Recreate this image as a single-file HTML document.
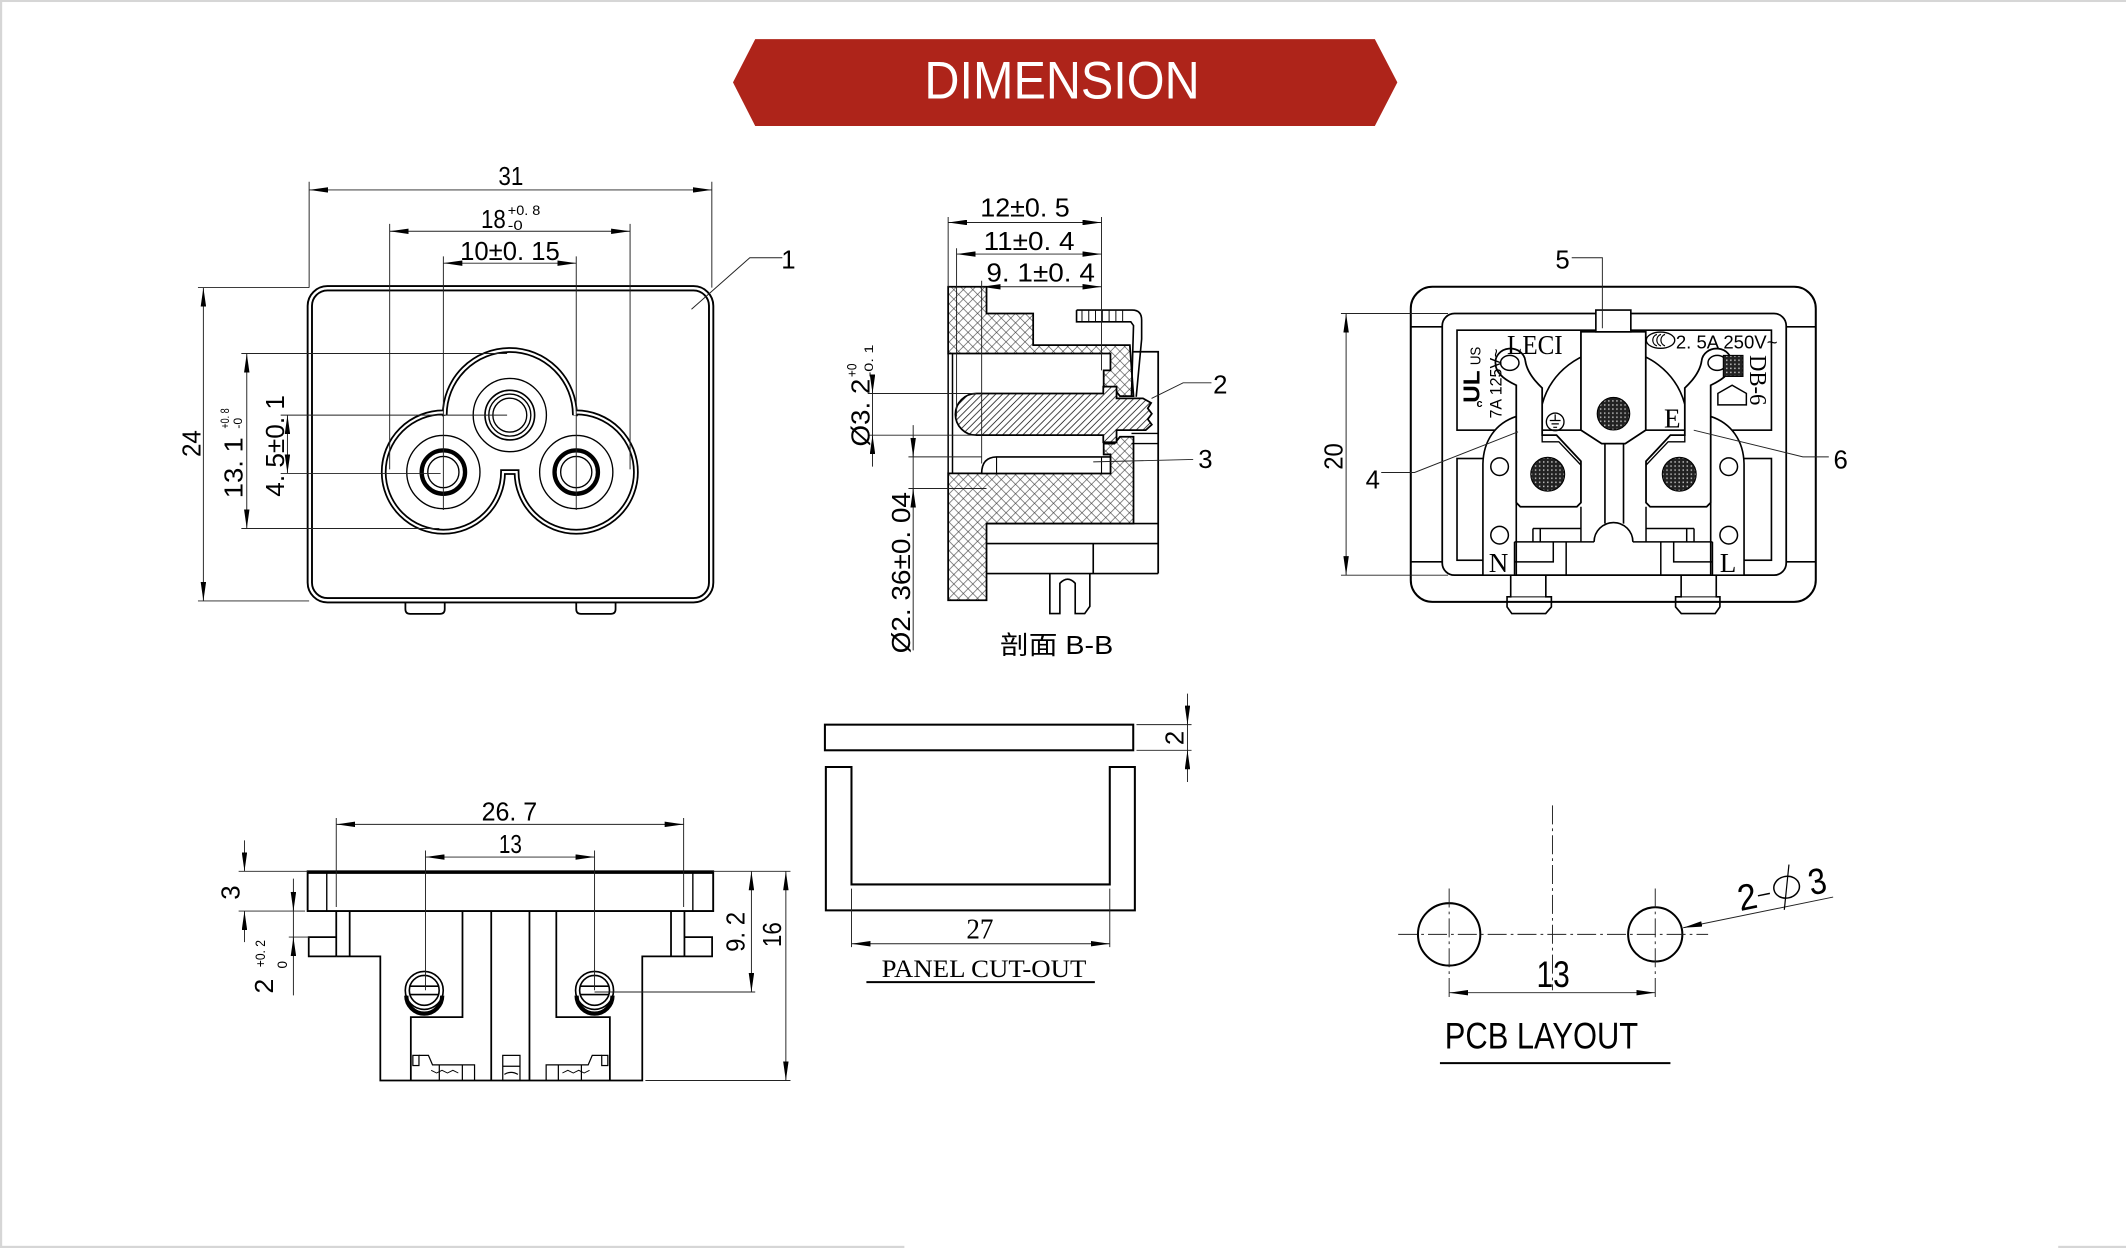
<!DOCTYPE html>
<html><head><meta charset="utf-8"><style>
html,body{margin:0;padding:0;background:#fff;overflow:hidden;}
svg{display:block;}
text{font-family:"Liberation Sans","Noto Sans CJK SC",sans-serif;fill:#000;stroke:none;}
.s{font-family:"Liberation Serif","Noto Serif CJK SC",serif;}
</style></head><body>
<svg xmlns="http://www.w3.org/2000/svg" width="2126" height="1248" viewBox="0 0 1568 920" preserveAspectRatio="none">
<defs>
<marker id="ar" viewBox="0 0 14 4" refX="14" refY="2" markerWidth="14" markerHeight="4" markerUnits="userSpaceOnUse" orient="auto-start-reverse"><path d="M0,0 L14,2 L0,4 z" fill="#000" stroke="none"/></marker>
<pattern id="xh" width="7" height="7" patternUnits="userSpaceOnUse"><path d="M-1,1 L1,-1 M0,7 L7,0 M6,8 L8,6 M-1,6 L1,8 M0,0 L7,7 M6,-1 L8,1" stroke="#333" stroke-width="0.45" fill="none"/></pattern>
<pattern id="dh" width="5" height="5" patternUnits="userSpaceOnUse"><path d="M-1,1 L1,-1 M0,5 L5,0 M4,6 L6,4" stroke="#000" stroke-width="0.55" fill="none"/></pattern>
<pattern id="mesh" width="3" height="3" patternUnits="userSpaceOnUse"><rect width="3" height="3" fill="#222"/><rect x="1" y="1" width="1.1" height="1.1" fill="#bbb"/></pattern>
</defs>

<!-- page border -->
<rect x="0" y="0" width="1568" height="1.5" fill="#d6d6d6"/>
<rect x="0" y="0" width="1.6" height="920" fill="#d6d6d6"/>
<rect x="0" y="918.4" width="667" height="1.6" fill="#d6d6d6"/>
<rect x="1518" y="918.4" width="50" height="1.6" fill="#d6d6d6"/>

<!-- banner -->
<polygon points="540.6,60.7 557,28.8 1014,28.8 1030.6,60.7 1014,92.9 557,92.9" fill="#AE241A"/>
<text x="783.3" y="72.5" font-size="39" text-anchor="middle" textLength="203" lengthAdjust="spacingAndGlyphs" style="fill:#fff">DIMENSION</text>

<!-- ================= FRONT VIEW ================= -->
<g fill="none" stroke="#000">
<rect x="228.5" y="212.5" width="296" height="230" rx="13" stroke-width="4.6"/>
<rect x="228.5" y="212.5" width="296" height="230" rx="13" stroke="#fff" stroke-width="1.8"/>
<path d="M299,444.5 V449 Q299,452.5 302.5,452.5 H324.5 Q328,452.5 328,449 V444.5" stroke-width="1.3"/>
<path d="M425,444.5 V449 Q425,452.5 428.5,452.5 H450.5 Q454,452.5 454,449 V444.5" stroke-width="1.3"/>
<path d="M328,306 A48,48 0 0 1 424,306 L425,304 A44,44 0 1 1 381,348 L371,348 A44,44 0 1 1 327,304 Z" stroke-width="4.2"/>
<path d="M328,306 A48,48 0 0 1 424,306 L425,304 A44,44 0 1 1 381,348 L371,348 A44,44 0 1 1 327,304 Z" stroke="#fff" stroke-width="1.6"/>
<circle cx="376" cy="306" r="27" stroke-width="1"/>
<circle cx="376" cy="306" r="18.3" stroke-width="1.2"/>
<circle cx="376" cy="306" r="15.5" stroke-width="1"/>
<circle cx="376" cy="306" r="12.5" stroke-width="1"/>
<circle cx="327" cy="348" r="27" stroke-width="1"/>
<circle cx="327" cy="348" r="16" stroke-width="3.2"/>
<circle cx="327" cy="348" r="11.5" stroke-width="1"/>
<circle cx="425" cy="348" r="27" stroke-width="1"/>
<circle cx="425" cy="348" r="16" stroke-width="3.2"/>
<circle cx="425" cy="348" r="11.5" stroke-width="1"/>
<g stroke-width="0.7" stroke="#222">
<path d="M228,134 V212 M525,134 V212"/>
<line x1="228" y1="140" x2="525" y2="140" marker-start="url(#ar)" marker-end="url(#ar)"/>
<path d="M287.4,165 V346 M464.7,165 V346"/>
<line x1="287.4" y1="170.5" x2="464.7" y2="170.5" marker-start="url(#ar)" marker-end="url(#ar)"/>
<path d="M327,189 V376 M425,189 V376"/>
<line x1="327" y1="194" x2="425" y2="194" marker-start="url(#ar)" marker-end="url(#ar)"/>
<path d="M146,212 H228 M146,443 H228"/>
<line x1="150" y1="212" x2="150" y2="443" marker-start="url(#ar)" marker-end="url(#ar)"/>
<path d="M178,260.6 H374 M178,389.6 H324"/>
<line x1="182" y1="260.6" x2="182" y2="389.6" marker-start="url(#ar)" marker-end="url(#ar)"/>
<path d="M207,306 H374 M207,349 H325"/>
<line x1="212" y1="306" x2="212" y2="349" marker-start="url(#ar)" marker-end="url(#ar)"/>
<path d="M510,228 L553,190 H577"/>
</g>
</g>
<text x="376.8" y="136.5" font-size="19" text-anchor="middle" textLength="18.4" lengthAdjust="spacingAndGlyphs">31</text>
<text x="363.9" y="168" font-size="19" text-anchor="middle" textLength="18.3" lengthAdjust="spacingAndGlyphs">18</text>
<text x="374.5" y="158.6" font-size="10" textLength="24" lengthAdjust="spacingAndGlyphs">+0. 8</text>
<text x="374.5" y="169.5" font-size="10" textLength="11" lengthAdjust="spacingAndGlyphs">-0</text>
<text x="376.1" y="191.5" font-size="19" text-anchor="middle" textLength="73.4" lengthAdjust="spacingAndGlyphs">10±0. 15</text>
<text transform="translate(140.7,327) rotate(-90)" x="0" y="7" font-size="19" text-anchor="middle" textLength="19.8" lengthAdjust="spacingAndGlyphs">24</text>
<g transform="translate(172,344.8) rotate(-90)">
<text x="0" y="7" font-size="19" text-anchor="middle" textLength="45" lengthAdjust="spacingAndGlyphs">13. 1</text>
<text x="28.8" y="-3" font-size="9" textLength="15" lengthAdjust="spacingAndGlyphs">+0. 8</text>
<text x="28.8" y="6.5" font-size="9" textLength="8" lengthAdjust="spacingAndGlyphs">-0</text>
</g>
<text transform="translate(202.6,328.7) rotate(-90)" x="0" y="7" font-size="19" text-anchor="middle" textLength="75" lengthAdjust="spacingAndGlyphs">4. 5±0. 1</text>
<text x="581.5" y="198" font-size="19" text-anchor="middle">1</text>

<!-- ================= SECTION B-B ================= -->
<g fill="none" stroke="#000">
<path d="M699.3,211.4 H727.6 V231.1 H762 V254.4 H833.3 L836,292 H826 L822,287 H814 V273 H819 V260.6 H699.3 Z" fill="url(#xh)" stroke-width="1.3"/>
<path d="M699.3,349 H819 V335 H814 V327 H822 L826,322 H836 V386 H727.6 V442.5 H699.3 Z" fill="url(#xh)" stroke-width="1.3"/>
<path d="M699.3,260.6 V349 M702.5,260.6 V349" stroke-width="1.1"/>
<path d="M720,290.1 H813.7 V285 H823.5 V293.7 H843 L849,297 L846.5,301 L849.5,305 L846.5,309 L849.5,313 L845,317.1 H823.5 V326 H813.7 V320.8 H720 A15.35,15.35 0 0 1 720,290.1 Z" fill="#fff" stroke="none"/>
<path d="M720,290.1 H813.7 V285 H823.5 V293.7 H843 L849,297 L846.5,301 L849.5,305 L846.5,309 L849.5,313 L845,317.1 H823.5 V326 H813.7 V320.8 H720 A15.35,15.35 0 0 1 720,290.1 Z" fill="url(#dh)" stroke-width="1.3"/>
<path d="M735,336.8 H819 V349 H724 Q724,337 735,336.8 Z" fill="#fff" stroke-width="1.2"/>
<path d="M735,336.8 V349 M812.4,336.8 V349" stroke-width="0.8"/>
<path d="M836,259.3 H854.2 V422.8" stroke-width="1.3"/>
<path d="M834.5,319.5 H854.2 M834.5,327 H854.2" stroke-width="1"/>
<path d="M727.6,386 H854.2 M727.6,400.7 H854.2 M727.6,422.8 H854.2 M806.3,400.7 V422.8" stroke-width="1.2"/>
<path d="M774.3,422.8 V452.3 H781.7 V430 Q787.5,424 793,430 V452.3 H800 L803.8,447 V422.8" stroke-width="1.2"/>
<path d="M794,228.6 H835 Q842,228.6 842,236 V250 L838,292.5 M794,228.6 V237.2 H834 L836,240 L834.5,292" stroke-width="1.2"/>
<path d="M798,229 V237 M803,229 V237 M808,229 V237 M813,229 V237 M818,229 V237 M823,229 V237 M828,229 V237" stroke-width="0.7"/>
<g stroke-width="0.7" stroke="#222">
<path d="M699.3,160 V211.4 M812.4,160 V273"/>
<line x1="699.3" y1="164" x2="812.4" y2="164" marker-start="url(#ar)" marker-end="url(#ar)"/>
<path d="M705.5,183 V307"/>
<line x1="705.5" y1="187.3" x2="812.4" y2="187.3" marker-start="url(#ar)" marker-end="url(#ar)"/>
<path d="M724,207 V341.7"/>
<line x1="724" y1="211.4" x2="812.4" y2="211.4" marker-start="url(#ar)" marker-end="url(#ar)"/>
<path d="M643.5,276.5 V344 M640,290.1 H720 M640,320.8 H720"/>
<line x1="643.5" y1="276.5" x2="643.5" y2="290.1" marker-end="url(#ar)"/>
<line x1="643.5" y1="334.4" x2="643.5" y2="320.8" marker-end="url(#ar)"/>
<path d="M673.5,313.4 V479.4 M670,336.8 H724 M670,360.1 H727.6"/>
<line x1="673.5" y1="322.8" x2="673.5" y2="336.8" marker-end="url(#ar)"/>
<line x1="673.5" y1="374" x2="673.5" y2="360.1" marker-end="url(#ar)"/>
<path d="M849.3,293.7 L872.6,282.2 H893.5"/>
<path d="M806.3,340.5 L880,338.7"/>
</g>
</g>
<text x="756" y="159.5" font-size="19" text-anchor="middle" textLength="66" lengthAdjust="spacingAndGlyphs">12±0. 5</text>
<text x="759" y="184.3" font-size="19" text-anchor="middle" textLength="67" lengthAdjust="spacingAndGlyphs">11±0. 4</text>
<text x="767.5" y="207.7" font-size="19" text-anchor="middle" textLength="80" lengthAdjust="spacingAndGlyphs">9. 1±0. 4</text>
<g transform="translate(634.2,304.2) rotate(-90)">
<text x="0" y="7" font-size="19" text-anchor="middle" textLength="50" lengthAdjust="spacingAndGlyphs">Ø3. 2</text>
<text x="26.2" y="-2.5" font-size="10" textLength="10" lengthAdjust="spacingAndGlyphs">+0</text>
<text x="26.2" y="9.5" font-size="9" textLength="24" lengthAdjust="spacingAndGlyphs">-0. 1</text>
</g>
<text transform="translate(664.3,422.2) rotate(-90)" x="0" y="7" font-size="19" text-anchor="middle" textLength="119" lengthAdjust="spacingAndGlyphs">Ø2. 36±0. 04</text>
<text x="900" y="290" font-size="19" text-anchor="middle">2</text>
<text x="889" y="345" font-size="19" text-anchor="middle">3</text>
<text x="779.3" y="482" font-size="19" text-anchor="middle" textLength="83.5" lengthAdjust="spacingAndGlyphs">剖面 B-B</text>

<!-- ================= BACK VIEW ================= -->
<g fill="none" stroke="#000">
<rect x="1040.5" y="211.4" width="298.7" height="232.3" rx="16" stroke-width="1.5"/>
<rect x="1063.7" y="231.1" width="253.7" height="192.9" rx="9" stroke-width="1.3"/>
<path d="M1040.5,240.9 H1063.7 M1317.4,240.9 H1339.2 M1040.5,414.2 H1063.7 M1317.4,414.2 H1339.2" stroke-width="1.2"/>
<rect x="1074.6" y="243.4" width="231.9" height="73.7" stroke-width="1.2"/>
<rect x="1074.6" y="338" width="20.4" height="75" stroke-width="1.2"/>
<rect x="1286" y="338" width="20.5" height="75" stroke-width="1.2"/>
<path d="M1137.4,298 A54.5,54.5 0 0 1 1242.6,298" stroke-width="1.2"/>
<path d="M1093.7,424 V342 C1094,325 1103,312 1118.3,307 V424 Z" fill="#fff" stroke-width="1.2"/>
<path d="M1286.3,424 V342 C1286,325 1277,312 1261.7,307 V424 Z" fill="#fff" stroke-width="1.2"/>
<circle cx="1106" cy="344" r="6.5" stroke-width="1.1"/>
<circle cx="1106" cy="394.5" r="6.5" stroke-width="1.1"/>
<circle cx="1275" cy="344" r="6.5" stroke-width="1.1"/>
<circle cx="1275" cy="394.5" r="6.5" stroke-width="1.1"/>
<g>
<path d="M1121.3,373.6 L1118.3,370.5 V284 C1112,281 1103,276 1103,268 A11,10 0 0 1 1125,266 C1126,273 1131,280 1137.4,286 V320.8 H1148 L1166,340 V370.5 L1163,373.6 Z" fill="#fff" stroke-width="1.3"/>
<ellipse cx="1113.5" cy="267.5" rx="6.8" ry="5.5" stroke-width="1.1"/>
<path d="M1137.4,320.8 V325.7 H1149.7 L1166,342.9" stroke-width="1"/>
<circle cx="1141.5" cy="349.6" r="12.5" fill="url(#mesh)" stroke-width="0.8"/>
<path d="M1117,399.5 H1175.7 M1166,373.6 V399.5 M1130.6,389.6 H1166 M1130.6,389.6 V399.5 M1136,389.6 V399.5" stroke-width="1.1"/>
<path d="M1117,399.5 V424 M1155.1,399.5 V424 M1117,414.2 H1145.6 V399.5" stroke-width="1.1"/>
<path d="M1114.2,424 V440 H1111.5 V447.4 L1115,452.3 H1140 L1144.2,447.4 V440 H1140.1 V424" stroke-width="1.2"/>
<path d="M1111.5,440 H1144.2" stroke-width="0.8"/>
</g>
<g transform="translate(2380,0) scale(-1,1)">
<path d="M1121.3,373.6 L1118.3,370.5 V284 C1112,281 1103,276 1103,268 A11,10 0 0 1 1125,266 C1126,273 1131,280 1137.4,286 V320.8 H1148 L1166,340 V370.5 L1163,373.6 Z" fill="#fff" stroke-width="1.3"/>
<ellipse cx="1113.5" cy="267.5" rx="6.8" ry="5.5" stroke-width="1.1"/>
<path d="M1137.4,320.8 V325.7 H1149.7 L1166,342.9" stroke-width="1"/>
<circle cx="1141.5" cy="349.6" r="12.5" fill="url(#mesh)" stroke-width="0.8"/>
<path d="M1117,399.5 H1175.7 M1166,373.6 V399.5 M1130.6,389.6 H1166 M1130.6,389.6 V399.5 M1136,389.6 V399.5" stroke-width="1.1"/>
<path d="M1117,399.5 V424 M1155.1,399.5 V424 M1117,414.2 H1145.6 V399.5" stroke-width="1.1"/>
<path d="M1114.2,424 V440 H1111.5 V447.4 L1115,452.3 H1140 L1144.2,447.4 V440 H1140.1 V424" stroke-width="1.2"/>
<path d="M1111.5,440 H1144.2" stroke-width="0.8"/>
</g>
<path d="M1166,244.6 H1213.8 V317.1 L1198.7,327 H1181.3 L1166,317.1 Z" fill="#fff" stroke-width="1.3"/>
<path d="M1177,228.6 H1202.8 V244.6 H1177 Z" fill="#fff" stroke-width="1.2"/>
<path d="M1183.7,327 V386 M1197.4,327 V386" stroke-width="1.2"/>
<path d="M1175.7,399.5 A14.3,14.3 0 0 1 1204.3,399.5" stroke-width="1.2"/>
<circle cx="1190" cy="305" r="12" fill="url(#mesh)" stroke-width="0.8"/>
<circle cx="1147" cy="311" r="6.5" stroke-width="1"/>
<path d="M1147,305.5 V310 M1143,310 H1151 M1144.3,312.5 H1149.7 M1145.6,315 H1148.4" stroke-width="0.9"/>
<ellipse cx="1224.7" cy="250.8" rx="10.5" ry="6" stroke-width="1"/>
<path d="M1222,246.5 A4.5,4.5 0 0 0 1222,255 M1225,246.5 A4.5,4.5 0 0 0 1225,255 M1228,246.5 A4.5,4.5 0 0 0 1228,255" stroke-width="0.9"/>
<rect x="1271" y="262" width="14.5" height="15.5" fill="url(#mesh)" stroke-width="0.8"/>
<path d="M1267,298.5 V290 L1277.5,284 L1288,290 V298.5 Z" stroke-width="1.1"/>
<g stroke-width="0.7" stroke="#222">
<path d="M989,231.1 H1068 M989,424 H1068"/>
<line x1="992.8" y1="231.1" x2="992.8" y2="424" marker-start="url(#ar)" marker-end="url(#ar)"/>
<path d="M1159.2,190 H1181.8 V242"/>
<path d="M1119.6,318.3 L1043.3,348.3 H1018.7"/>
<path d="M1249.2,317.1 L1329.7,336.8 H1348.8"/>
</g>
</g>
<text class="s" x="1111.5" y="261" font-size="20" textLength="41" lengthAdjust="spacingAndGlyphs">LECI</text>
<text x="1236" y="256.9" font-size="13.5" textLength="75" lengthAdjust="spacingAndGlyphs">2. 5A 250V~</text>
<text class="s" transform="translate(1297.3,280.3) rotate(90)" x="0" y="6.5" font-size="18" text-anchor="middle" textLength="37" lengthAdjust="spacingAndGlyphs">DB-6</text>
<text transform="translate(1088,262.4) rotate(-90)" x="0" y="4" font-size="11" text-anchor="middle" textLength="13.6" lengthAdjust="spacingAndGlyphs">US</text>
<text transform="translate(1103,282.7) rotate(-90)" x="0" y="4.5" font-size="12" text-anchor="middle" textLength="51.6" lengthAdjust="spacingAndGlyphs">7A 125V~</text>
<text transform="translate(1085,285) rotate(-90)" x="0" y="6" font-size="17" font-weight="bold" text-anchor="middle" textLength="24" lengthAdjust="spacingAndGlyphs">UL</text>
<text x="1089" y="300" font-size="8" font-weight="bold">c</text>
<text class="s" x="1233.4" y="315" font-size="20" text-anchor="middle">E</text>
<text class="s" x="1105.2" y="421.6" font-size="20" text-anchor="middle">N</text>
<text class="s" x="1274.5" y="421.6" font-size="20" text-anchor="middle">L</text>
<text x="1152.4" y="197.9" font-size="19" text-anchor="middle">5</text>
<text x="1012.5" y="360" font-size="19" text-anchor="middle">4</text>
<text x="1357.6" y="345.4" font-size="19" text-anchor="middle">6</text>
<text transform="translate(983,336.5) rotate(-90)" x="0" y="7" font-size="19" text-anchor="middle" textLength="19.6" lengthAdjust="spacingAndGlyphs">20</text>

<!-- ================= BOTTOM VIEW ================= -->
<g fill="none" stroke="#000">
<rect x="226.9" y="642.3" width="299.1" height="29.3" stroke-width="1.4"/>
<path d="M227,643 H526" stroke-width="2.4"/>
<path d="M241,642.3 V671.6 M511,642.3 V671.6" stroke-width="1"/>
<path d="M248,671.6 V705 M257.9,671.6 V705 M494.9,671.6 V705 M504.8,671.6 V705" stroke-width="1.3"/>
<path d="M248,690.8 H227.7 V705 H248 M504.8,690.8 H525.2 V705 H504.8" stroke-width="1.3"/>
<path d="M248,705 H280.5 V796.5 H473.7 V705 H504.8 M303,796.5 V749.8 H341.1 V671.6 M362.3,671.6 V796.5 M390.5,671.6 V796.5 M410.3,671.6 V749.8 H449.8 V796.5" stroke-width="1.3"/>
<g stroke-width="0.9">
<rect x="304.5" y="778" width="4.5" height="7.5"/>
<path d="M309,778 H316 L319,785 L341,785 V796.5 M324,785 V796.5 M341,785 H350 V796.5"/>
<path d="M318,789 L322,791 L326,789 L330,791 L334,789 L338,791" stroke-width="0.7"/>
<rect x="443.8" y="778" width="4.5" height="7.5"/>
<path d="M443.8,778 H436.8 L433.8,785 L411.8,785 V796.5 M428.8,785 V796.5 M411.8,785 H402.8 V796.5"/>
<path d="M434.8,789 L430.8,791 L426.8,789 L422.8,791 L418.8,789 L414.8,791" stroke-width="0.7"/>
<rect x="370.8" y="778" width="12.7" height="18.5"/>
<path d="M370.8,786 H383.5 M372,792 Q377,789 382,792"/>
</g>
<g stroke-width="1.2">
<circle cx="312.9" cy="730.1" r="14"/>
<circle cx="312.9" cy="730.1" r="11"/>
<path d="M301.9,727 H323.9 M301.9,733.2 H323.9"/>
<path d="M298.9,734 A14,14 0 0 0 326.9,734 M300.4,734 A12.5,12.5 0 0 0 325.4,734" stroke-width="1.6"/>
<circle cx="438.5" cy="730.1" r="14"/>
<circle cx="438.5" cy="730.1" r="11"/>
<path d="M427.5,727 H449.5 M427.5,733.2 H449.5"/>
<path d="M424.5,734 A14,14 0 0 0 452.5,734 M426,734 A12.5,12.5 0 0 0 451,734" stroke-width="1.6"/>
</g>
<g stroke-width="0.7" stroke="#222">
<path d="M248,603 V668.6 M504.2,603 V668.6"/>
<line x1="248" y1="607.7" x2="504.2" y2="607.7" marker-start="url(#ar)" marker-end="url(#ar)"/>
<path d="M313.8,627 V730 M438.5,627 V730"/>
<line x1="313.8" y1="631.8" x2="438.5" y2="631.8" marker-start="url(#ar)" marker-end="url(#ar)"/>
<path d="M176,642.3 H227 M176,671.6 H225"/>
<line x1="180.3" y1="619.5" x2="180.3" y2="642.3" marker-end="url(#ar)"/>
<line x1="180.3" y1="694.5" x2="180.3" y2="671.6" marker-end="url(#ar)"/>
<path d="M216.4,647.7 V733.8 M213,690.8 H228"/>
<line x1="216.4" y1="657" x2="216.4" y2="671.6" marker-end="url(#ar)"/>
<line x1="216.4" y1="705" x2="216.4" y2="690.8" marker-end="url(#ar)"/>
<path d="M438.5,731.3 H557 M526,642.3 H583 M476,796.5 H583"/>
<line x1="554.2" y1="642.3" x2="554.2" y2="731.3" marker-start="url(#ar)" marker-end="url(#ar)"/>
<line x1="579.6" y1="642.3" x2="579.6" y2="796.5" marker-start="url(#ar)" marker-end="url(#ar)"/>
</g>
</g>
<text x="375.7" y="604.7" font-size="19" text-anchor="middle" textLength="41" lengthAdjust="spacingAndGlyphs">26. 7</text>
<text x="376.4" y="628.8" font-size="19" text-anchor="middle" textLength="17" lengthAdjust="spacingAndGlyphs">13</text>
<text transform="translate(169.7,658) rotate(-90)" x="0" y="7" font-size="19" text-anchor="middle">3</text>
<g transform="translate(196.5,727) rotate(-90)">
<text x="0" y="5" font-size="19" text-anchor="middle" textLength="11" lengthAdjust="spacingAndGlyphs">2</text>
<text x="14" y="-1" font-size="10" textLength="20" lengthAdjust="spacingAndGlyphs">+0. 2</text>
<text x="13" y="15" font-size="10">0</text>
</g>
<text transform="translate(542.2,687) rotate(-90)" x="0" y="7" font-size="19" text-anchor="middle" textLength="29.5" lengthAdjust="spacingAndGlyphs">9. 2</text>
<text transform="translate(569,689) rotate(-90)" x="0" y="7" font-size="19" text-anchor="middle" textLength="18.4" lengthAdjust="spacingAndGlyphs">16</text>

<!-- ================= PANEL CUT-OUT ================= -->
<g fill="none" stroke="#000">
<rect x="608.4" y="534.2" width="227.4" height="18.9" stroke-width="1.5"/>
<path d="M609.1,565.4 H628 V652 H818.5 V565.4 H837 V671.1 H609.1 Z" stroke-width="1.5"/>
<g stroke-width="0.7" stroke="#222">
<path d="M875.8,511.3 V576.5 M838.2,534.2 H878.8 M838.2,553.1 H878.8"/>
<line x1="875.8" y1="520" x2="875.8" y2="534.2" marker-end="url(#ar)"/>
<line x1="875.8" y1="567" x2="875.8" y2="553.1" marker-end="url(#ar)"/>
<path d="M628,655.1 V698.2 M818.5,655.1 V698.2"/>
<line x1="628" y1="695.7" x2="818.5" y2="695.7" marker-start="url(#ar)" marker-end="url(#ar)"/>
</g>
<path d="M639,724 H807.5" stroke-width="1.5"/>
</g>
<text transform="translate(865.8,544) rotate(-90)" x="0" y="7" font-size="19" text-anchor="middle">2</text>
<text class="s" x="722.7" y="692" font-size="21" text-anchor="middle" textLength="20" lengthAdjust="spacingAndGlyphs">27</text>
<text class="s" x="650.2" y="720.3" font-size="19" textLength="151" lengthAdjust="spacingAndGlyphs">PANEL CUT-OUT</text>

<!-- ================= PCB LAYOUT ================= -->
<g fill="none" stroke="#000">
<circle cx="1068.8" cy="688.8" r="23" stroke-width="1.5"/>
<circle cx="1220.8" cy="688.8" r="20" stroke-width="1.5"/>
<g stroke-width="0.7" stroke="#222" stroke-dasharray="14 3 2 3">
<path d="M1031.2,688.8 H1259.8"/>
<path d="M1145,593.7 V730"/>
<path d="M1068.8,655 V735 M1220.8,655 V735"/>
</g>
<g stroke-width="0.7" stroke="#222">
<line x1="1068.8" y1="731.8" x2="1220.8" y2="731.8" marker-start="url(#ar)" marker-end="url(#ar)"/>
<line x1="1352" y1="661.3" x2="1241.4" y2="683.9" marker-end="url(#ar)"/>
</g>
<path d="M1062,783.7 H1232" stroke-width="1.5"/>
<g transform="translate(1313,656) rotate(-11.5)">
<path d="M-17,1 H-8" stroke-width="1.1"/>
<ellipse cx="5" cy="-1" rx="9.5" ry="8" stroke-width="1.1"/>
<path d="M10,-17 L0,15" stroke-width="0.9"/>
</g>
</g>
<text x="1145.5" y="727.6" font-size="27" text-anchor="middle" textLength="24.6" lengthAdjust="spacingAndGlyphs">13</text>
<g transform="translate(1313,656) rotate(-11.5)">
<text x="-25" y="9.5" font-size="27" text-anchor="middle" textLength="14" lengthAdjust="spacingAndGlyphs">2</text>
<text x="28" y="8.5" font-size="27" text-anchor="middle" textLength="13" lengthAdjust="spacingAndGlyphs">3</text>
</g>
<text x="1065.6" y="773.1" font-size="27" textLength="142.6" lengthAdjust="spacingAndGlyphs">PCB LAYOUT</text>
</svg>
</body></html>
